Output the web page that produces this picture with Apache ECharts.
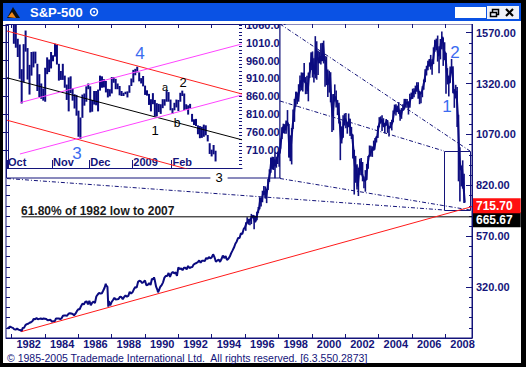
<!DOCTYPE html>
<html><head><meta charset="utf-8">
<script src="https://cdn.jsdelivr.net/npm/echarts/dist/echarts.min.js"></script>
<style>
html,body{margin:0;padding:0;background:#000;width:526px;height:367px;overflow:hidden;}
#bg{position:absolute;left:3px;top:21px;width:518px;height:342px;background:#fff;}
#c{position:absolute;left:0;top:0;width:526px;height:367px;}
</style></head>
<body><div id="bg"></div><div id="c"></div>
<script>
// ---------- DATA ----------
// S&P-500 month-end closes, Sep 1981 .. Dec 1989
const spx1981_1989 = [116.18,121.89,126.35,122.55,
 120.40,113.11,111.96,116.44,111.88,109.61,107.09,119.51,120.42,133.71,138.54,140.64,
 145.30,148.06,152.96,164.42,162.39,168.11,162.56,164.40,166.07,163.55,166.40,164.93,
 163.41,157.06,159.18,160.05,150.55,153.18,150.66,166.68,166.10,166.09,163.58,167.24,
 179.63,181.18,180.66,179.83,189.55,191.85,190.92,188.63,182.08,189.82,202.17,211.28,
 211.78,226.92,238.90,235.52,247.35,250.84,236.12,252.93,231.32,243.98,249.22,242.17,
 274.08,284.20,291.70,288.36,290.10,304.00,318.66,329.80,321.83,251.79,230.30,247.08,
 257.07,267.82,258.89,261.33,262.16,273.50,272.02,261.52,271.91,278.97,273.70,277.72,
 297.47,288.86,294.87,309.64,320.52,317.98,346.08,351.45,349.15,340.36,345.99,353.40];
// Jan 1990 .. Dec 1999
const spx1990_1999 = [
 329.08,331.89,339.94,330.80,361.23,358.02,356.15,322.56,306.05,304.00,322.22,330.22,
 343.93,367.07,375.22,375.35,389.83,371.16,387.81,395.43,387.86,392.46,375.22,417.09,
 408.79,412.70,403.69,414.95,415.35,408.14,424.21,414.03,417.80,418.68,431.35,435.71,
 438.78,443.38,451.67,440.19,450.19,450.53,448.13,463.56,458.93,467.83,461.79,466.45,
 481.61,467.14,445.77,450.91,456.50,444.27,458.26,475.49,462.69,472.35,453.69,459.27,
 470.42,487.39,500.71,514.71,533.40,544.75,562.06,561.88,584.41,581.50,605.37,615.93,
 636.02,640.43,645.50,654.17,669.12,670.63,639.95,651.99,687.31,705.27,757.02,740.74,
 786.16,790.82,757.12,801.34,848.28,885.14,954.29,899.47,947.28,914.62,955.40,970.43,
 980.28,1049.34,1101.75,1111.75,1090.82,1133.84,1120.67,957.28,1017.01,1098.67,1163.63,1229.23,
 1279.64,1238.33,1286.37,1335.18,1301.84,1372.71,1328.72,1320.41,1282.71,1362.93,1388.91,1469.25];
// Jan 2000 .. Feb 2009
const spx2000_2009 = [
 1394.46,1366.42,1498.58,1452.43,1420.60,1454.60,1430.83,1517.68,1436.51,1429.40,1314.95,1320.28,
 1366.01,1239.94,1160.33,1249.46,1255.82,1224.42,1211.23,1133.58,1040.94,1059.78,1139.45,1148.08,
 1130.20,1106.73,1147.39,1076.92,1067.14,989.82,911.62,916.07,815.28,885.76,936.31,879.82,
 855.70,841.15,848.18,916.92,963.59,974.50,990.31,1008.01,995.97,1050.71,1058.20,1111.92,
 1131.13,1144.94,1126.21,1107.30,1120.68,1140.84,1101.72,1104.24,1114.58,1130.20,1173.82,1211.92,
 1181.27,1203.60,1180.59,1156.85,1191.50,1191.33,1234.18,1220.33,1228.81,1207.01,1249.48,1248.29,
 1280.08,1280.66,1294.83,1310.61,1270.09,1270.20,1276.66,1303.82,1335.85,1377.94,1400.63,1418.30,
 1438.24,1406.82,1420.86,1482.37,1530.62,1503.35,1455.27,1473.99,1526.75,1549.38,1481.14,1468.36,
 1378.55,1330.63,1322.70,1385.59,1400.38,1280.00,1267.38,1282.83,1166.36,968.75,896.24,903.25,
 825.88,735.09];
// intra-month extremes before 1996 [year fraction, value]
const spxExtremes = [[1982.61,102.4],[1987.65,336.8],[1987.80,224.8],[1990.54,368.9],[1990.78,295.5]];
// monthly high / low, Jan 1996 .. Feb 2009
const spxHigh = [638,664,656,656,680,673,672,671,690,714,762,761,
 794,817,815,804,851,899,957,961,960,983,959,986,
 992,1050,1106,1123,1121,1139,1190,1121,1066,1102,1193,1245,
 1280,1271,1317,1360,1375,1373,1421,1352,1358,1374,1424,1474,
 1478,1445,1553,1528,1481,1477,1518,1520,1531,1455,1453,1389,
 1383,1376,1268,1269,1316,1286,1239,1226,1134,1110,1164,1173,
 1176,1129,1173,1147,1107,1070,995,965,924,907,951,954,
 935,864,895,925,965,1016,1015,1011,1040,1053,1063,1112,
 1155,1159,1164,1150,1128,1146,1140,1110,1131,1142,1188,1217,
 1218,1212,1229,1192,1200,1219,1245,1245,1244,1233,1270,1276,
 1295,1297,1310,1326,1327,1284,1280,1307,1340,1390,1407,1432,
 1441,1461,1439,1498,1535,1541,1556,1504,1539,1576,1545,1523,
 1472,1396,1359,1404,1441,1405,1293,1314,1303,1167,1007,918,
 943,877];
const spxLow = [597,633,627,624,630,658,605,639,649,684,703,716,
 737,773,756,733,797,837,882,899,896,855,907,925,
 912,1000,1048,1076,1074,1074,1114,957,939,923,1097,1132,
 1205,1219,1231,1283,1287,1281,1328,1268,1269,1233,1348,1387,
 1350,1325,1346,1339,1362,1420,1414,1430,1419,1305,1312,1254,
 1276,1228,1082,1091,1232,1203,1165,1124,944,1026,1054,1114,
 1101,1074,1108,1063,1048,952,775,833,800,768,872,870,
 840,806,789,847,902,960,962,960,990,1018,1031,1053,
 1105,1124,1087,1107,1076,1113,1078,1060,1101,1090,1131,1173,
 1163,1180,1171,1137,1147,1188,1194,1202,1201,1168,1201,1245,
 1245,1253,1268,1280,1245,1219,1224,1253,1290,1327,1360,1385,
 1403,1389,1364,1416,1476,1484,1428,1371,1439,1489,1407,1435,
 1270,1316,1257,1324,1373,1272,1201,1247,1107,840,741,815,
 804,734];

// inset: daily high / low, 1 Oct 2008 .. 5 Mar 2009 (trading days)
const insetHigh = [1163,1153,1153,1097,1072,1021,1005,936,1006,1044,995,948,984,985,985,951,922,896,882,940,969,963,984,
 975,1007,1004,951,931,951,918,893,913,916,882,866,864,820,801,865,868,888,896,
 888,850,875,875,879,918,916,908,903,881,880,914,914,909,896,889,875,870,873,874,891,910,
 934,937,943,927,911,917,890,877,867,852,869,850,841,839,838,852,852,877,872,851,
 827,842,851,850,870,876,868,838,835,839,811,796,797,779,777,775,781,779,752,
 729,711,724,708];
const insetLow = [1140,1111,1098,1007,996,970,909,840,899,985,907,865,918,941,952,875,858,853,848,845,922,928,938,
 958,971,949,904,906,906,884,850,818,869,848,826,806,747,741,800,834,845,880,
 815,817,837,835,818,876,884,885,871,857,860,868,898,880,880,863,861,861,866,857,870,889,
 899,919,927,902,896,888,864,862,836,818,838,804,804,816,811,827,834,845,845,821,
 811,821,829,819,845,861,822,823,809,826,789,780,777,754,743,744,747,751,734,
 699,692,698,678];
const insetMonthStarts = [0,23,42,64,84];
const insetMonthNames = ['Oct','Nov','Dec','2009','Feb'];

const yearLabels = [1982,1984,1986,1988,1990,1992,1994,1996,1998,2000,2002,2004,2006,2008];
const priceLabels = [320,570,820,1070,1320,1570];
const insetPriceLabels = [710,760,810,860,910,960,1010,1060];

// trend annotations (data units)
const redTrend = [[1982.6,102],[2009.6,715.7]];
const fibLevel = 665.67;
const fibStartYear = 1982.6;
// inset channel lines [index, value]
const insetRedUpper = [[-0.5,1042.7],[119.5,866.6]];
const insetRedLower = [[-0.5,793.3],[119.5,615.3]];
const insetMid = [[-0.5,911.9],[119.5,738.5]];
const insetMagentaUpper = [[6.1,842.3],[119.4,1006.4]];
const insetMagentaLower = [[6.1,698.8],[119.4,863.8]];

// ---------- BUILD ----------
const NAVY = '#14147a';
const FONT = '"Liberation Sans", Arial, sans-serif';
const X0 = 1981.67, X1 = 2009.6;
const Y0 = 70.5, Y1 = 1612.7;
const IY0 = 659.7, IY1 = 1062.3;

const monthly = [].concat(spx1981_1989, spx1990_1999, spx2000_2009);
const mainData = monthly.map((v, i) => [1981 + (9 + i) / 12, v])
  .concat(spxExtremes).sort((a, b) => a[0] - b[0]);
const bandData = spxHigh.map((h, i) => [1996 + (i + 0.5) / 12, spxLow[i], h]);
const insetData = insetHigh.map((h, i) => [i, insetLow[i], h]);

const step = (a, b, s) => { const r = []; for (let v = a; v <= b + 1e-9; v += s) r.push(v); return r; };
const mainMinor = step(120, 1600, 50);
const insetMinor = step(660, 1060, 10);
const monthTicks = insetMonthStarts.map(i => i - 0.5);

const tickStyle = { color: NAVY, width: 1 };
const lbl = { color: NAVY, fontWeight: 'bold', fontSize: 11, fontFamily: FONT };

const chart = echarts.init(document.getElementById('c'), null, { renderer: 'svg', width: 526, height: 367 });

const lineSeries = (data, color, xi, yi, z, extra) => Object.assign({
  type: 'line', data, xAxisIndex: xi, yAxisIndex: yi, showSymbol: false, silent: true,
  lineStyle: { color, width: 1 }, z, clip: true, animation: false
}, extra || {});

const rangeBars = (width, color) => (params, api) => {
  const cs = params.coordSys;
  const x = api.value(0);
  const lo = api.coord([x, api.value(1)]);
  const hi = api.coord([x, api.value(2)]);
  const y1 = Math.max(cs.y, Math.min(cs.y + cs.height, hi[1]));
  const y2 = Math.max(cs.y, Math.min(cs.y + cs.height, lo[1]));
  if (y1 === y2) return null;
  return { type: 'line', shape: { x1: lo[0], y1: y2, x2: hi[0], y2: y1 }, style: { stroke: color, lineWidth: width } };
};

const option = {
  animation: false,
  grid: [
    { left: 6, top: 24, right: 54, bottom: 29, show: true, borderColor: NAVY, borderWidth: 1, backgroundColor: 'transparent', z: 0 },
    { left: 7, top: 24, width: 235, height: 144, show: false, z: 3 }
  ],
  xAxis: [
    { gridIndex: 0, type: 'value', min: X0, max: X1, z: 1,
      axisLine: { show: true, lineStyle: tickStyle },
      axisTick: { show: true, inside: true, length: 4, customValues: yearLabels, lineStyle: tickStyle },
      axisLabel: Object.assign({ customValues: yearLabels, formatter: v => String(v), align: 'left', padding: [0, 0, 0, 5], margin: 0 }, lbl),
      splitLine: { show: false } },
    { gridIndex: 0, type: 'value', position: 'top', min: X0, max: X1, z: 6,
      axisLine: { show: false },
      axisTick: { show: true, inside: true, length: 4, customValues: yearLabels, lineStyle: tickStyle },
      axisLabel: { show: false }, splitLine: { show: false } },
    { gridIndex: 1, type: 'value', min: -0.5, max: 119.5, z: 3,
      axisLine: { show: true, lineStyle: tickStyle },
      axisTick: { show: true, inside: true, length: 8, customValues: monthTicks, lineStyle: tickStyle },
      axisLabel: Object.assign({ inside: true, customValues: monthTicks, margin: 1, align: 'left', padding: [0, 0, 0, 1],
        formatter: v => insetMonthNames[monthTicks.indexOf(v)] || '' }, lbl),
      splitLine: { show: false } }
  ],
  yAxis: [
    { gridIndex: 0, type: 'value', position: 'right', min: Y0, max: Y1, z: 1,
      axisLine: { show: true, lineStyle: tickStyle },
      axisTick: { show: true, inside: true, length: 6, customValues: priceLabels, lineStyle: tickStyle },
      axisLabel: Object.assign({ customValues: priceLabels, formatter: v => v.toFixed(2), margin: 4 }, lbl),
      splitLine: { show: false } },
    { gridIndex: 0, type: 'value', position: 'right', min: Y0, max: Y1, z: 1,
      axisLine: { show: false },
      axisTick: { show: true, inside: true, length: 3, customValues: mainMinor, lineStyle: tickStyle },
      axisLabel: { show: false }, splitLine: { show: false } },
    { gridIndex: 0, type: 'value', position: 'left', min: Y0, max: Y1, z: 1,
      axisLine: { show: false },
      axisTick: { show: true, inside: true, length: 4, customValues: mainMinor, lineStyle: tickStyle },
      axisLabel: { show: false }, splitLine: { show: false } },
    { gridIndex: 1, type: 'value', position: 'right', min: IY0, max: IY1, z: 3,
      axisLine: { show: true, lineStyle: tickStyle },
      axisTick: { show: true, inside: true, length: 5, customValues: insetPriceLabels, lineStyle: tickStyle },
      axisLabel: Object.assign({ customValues: insetPriceLabels, formatter: v => v.toFixed(2), margin: 4 }, lbl),
      splitLine: { show: false } },
    { gridIndex: 1, type: 'value', position: 'right', min: IY0, max: IY1, z: 3,
      axisLine: { show: false },
      axisTick: { show: true, inside: true, length: 3, customValues: insetMinor, lineStyle: tickStyle },
      axisLabel: { show: false }, splitLine: { show: false } }
  ],
  series: [
    lineSeries(mainData, '#0b0b80', 0, 0, 5, { lineStyle: { color: '#0b0b80', width: 2 } }),
    { type: 'custom', xAxisIndex: 0, yAxisIndex: 0, data: bandData, z: 5, silent: true, renderItem: rangeBars(1.6, '#101080') },
    lineSeries([[fibStartYear, fibLevel], [X1, fibLevel]], '#000', 0, 0, 5, {
      endLabel: { show: true, formatter: fibLevel.toFixed(2), backgroundColor: '#000', color: '#fff', offset: [0, 3],
        fontWeight: 'bold', fontSize: 12, fontFamily: FONT, padding: [2, 8, 1, 3], distance: 1 } }),
    lineSeries(redTrend, '#ff1a1a', 0, 0, 6, {
      endLabel: { show: true, formatter: redTrend[1][1].toFixed(2), backgroundColor: '#ff1010', color: '#fff', offset: [0, -1],
        fontWeight: 'bold', fontSize: 12, fontFamily: FONT, padding: [2, 8, 1, 3], distance: 1 } }),
    { type: 'custom', xAxisIndex: 2, yAxisIndex: 3, data: insetData, z: 4, silent: true, renderItem: rangeBars(2, '#0b0b80') },
    lineSeries(insetRedUpper, '#ff2020', 2, 3, 4),
    lineSeries(insetRedLower, '#ff2020', 2, 3, 4),
    lineSeries(insetMid, '#000', 2, 3, 4),
    lineSeries(insetMagentaUpper, '#ff44ff', 2, 3, 4),
    lineSeries(insetMagentaLower, '#ff44ff', 2, 3, 4)
  ],
  graphic: { elements: [
    // inset panel
    { type: 'rect', z: 2, shape: { x: 6.5, y: 24.5, width: 273.5, height: 153.5 }, style: { fill: '#fff', stroke: NAVY, lineWidth: 1 } },
    { type: 'rect', z: 4, shape: { x: 280, y: 25, width: 12, height: 152.5 }, style: { fill: '#fff' } },
    { type: 'line', z: 4, shape: { x1: 280, y1: 24, x2: 280, y2: 178 }, style: { stroke: NAVY, lineWidth: 1 } },
    // zoom box and connectors
    { type: 'rect', z: 6, shape: { x: 444.5, y: 151.5, width: 26, height: 59 }, style: { fill: 'none', stroke: NAVY, lineWidth: 1 } },
    { type: 'line', z: 6, shape: { x1: 280, y1: 24, x2: 470, y2: 151 }, style: { stroke: NAVY, lineWidth: 1, lineDash: [4, 2, 1, 2] } },
    { type: 'line', z: 6, shape: { x1: 280, y1: 101, x2: 444, y2: 151 }, style: { stroke: NAVY, lineWidth: 1, lineDash: [4, 2, 1, 2] } },
    { type: 'line', z: 6, shape: { x1: 7, y1: 178.5, x2: 444, y2: 210 }, style: { stroke: NAVY, lineWidth: 1, lineDash: [4, 2, 1, 2] } },
    { type: 'line', z: 6, shape: { x1: 280, y1: 178.5, x2: 470, y2: 210 }, style: { stroke: NAVY, lineWidth: 1, lineDash: [4, 2, 1, 2] } },
    // annotations
    { type: 'text', z: 7, x: 21, y: 211, style: { text: '61.80% of 1982 low to 2007', fill: '#1a1a1a', font: 'bold 12px ' + FONT, textVerticalAlign: 'middle' } },
    { type: 'text', z: 7, x: 455, y: 52, style: { text: '2', fill: '#3c6cf0', font: '17px ' + FONT, textAlign: 'center', textVerticalAlign: 'middle' } },
    { type: 'text', z: 7, x: 447, y: 106, style: { text: '1', fill: '#3c6cf0', font: '17px ' + FONT, textAlign: 'center', textVerticalAlign: 'middle' } },
    { type: 'text', z: 7, x: 140, y: 53, style: { text: '4', fill: '#3c6cf0', font: '17px ' + FONT, textAlign: 'center', textVerticalAlign: 'middle' } },
    { type: 'text', z: 7, x: 77, y: 153, style: { text: '3', fill: '#3c6cf0', font: '17px ' + FONT, textAlign: 'center', textVerticalAlign: 'middle' } },
    { type: 'text', z: 7, x: 165, y: 87, style: { text: 'a', fill: '#000', font: '11px ' + FONT, textAlign: 'center', textVerticalAlign: 'middle' } },
    { type: 'text', z: 7, x: 183, y: 82, style: { text: '2', fill: '#000', font: '13px ' + FONT, textAlign: 'center', textVerticalAlign: 'middle' } },
    { type: 'text', z: 7, x: 155, y: 130, style: { text: '1', fill: '#000', font: '13px ' + FONT, textAlign: 'center', textVerticalAlign: 'middle' } },
    { type: 'text', z: 7, x: 177, y: 123, style: { text: 'b', fill: '#000', font: '12px ' + FONT, textAlign: 'center', textVerticalAlign: 'middle' } },
    { type: 'text', z: 7, x: 219, y: 177, style: { text: '3', fill: '#000', font: '13px ' + FONT, textAlign: 'center', textVerticalAlign: 'middle', backgroundColor: '#fff', padding: [1, 5, 0, 5] } },
    // copyright
    { type: 'text', z: 7, x: 7, y: 358, style: { text: '\u00a9 1985-2005 Trademade International Ltd.  All rights reserved. [6.3.550.2873]', fill: NAVY, font: '10.5px ' + FONT, textVerticalAlign: 'middle' } },
    // title bar
    { type: 'rect', z: 8, shape: { x: 3, y: 3, width: 518, height: 18 }, style: { fill: '#0a52e4' } },
    { type: 'rect', z: 8, shape: { x: 3, y: 21, width: 518, height: 3 }, style: { fill: '#fff' } },
    { type: 'polygon', z: 9, shape: { points: [[7, 18], [13, 7], [20, 18]] }, style: { fill: '#111' } },
    { type: 'polygon', z: 9, shape: { points: [[8, 17], [12, 12], [16, 18]] }, style: { fill: '#f08a1c' } },
    { type: 'text', z: 9, x: 30, y: 12.5, style: { text: 'S&P-500', fill: '#fff', font: 'bold 13px ' + FONT, textVerticalAlign: 'middle' } },
    { type: 'circle', z: 9, shape: { cx: 94, cy: 12, r: 3.5 }, style: { fill: 'none', stroke: '#fff', lineWidth: 1.5 } },
    { type: 'circle', z: 9, shape: { cx: 94, cy: 12, r: 1 }, style: { fill: '#fff' } },
    { type: 'rect', z: 9, shape: { x: 455, y: 7, width: 31, height: 11 }, style: { fill: '#fff' } },
    { type: 'rect', z: 9, shape: { x: 487, y: 6, width: 32, height: 13 }, style: { fill: '#eef1f8' } },
    { type: 'rect', z: 9, shape: { x: 492.5, y: 9.5, width: 6, height: 5 }, style: { fill: 'none', stroke: '#000', lineWidth: 1.5 } },
    { type: 'rect', z: 9, shape: { x: 490.5, y: 12.5, width: 6, height: 4 }, style: { fill: '#eef1f8', stroke: '#000', lineWidth: 1.5 } },
    { type: 'line', z: 9, shape: { x1: 506, y1: 9, x2: 513, y2: 16 }, style: { stroke: '#000', lineWidth: 2.2 } },
    { type: 'line', z: 9, shape: { x1: 513, y1: 9, x2: 506, y2: 16 }, style: { stroke: '#000', lineWidth: 2.2 } }
  ] }
};
chart.setOption(option);
</script>
</body></html>
